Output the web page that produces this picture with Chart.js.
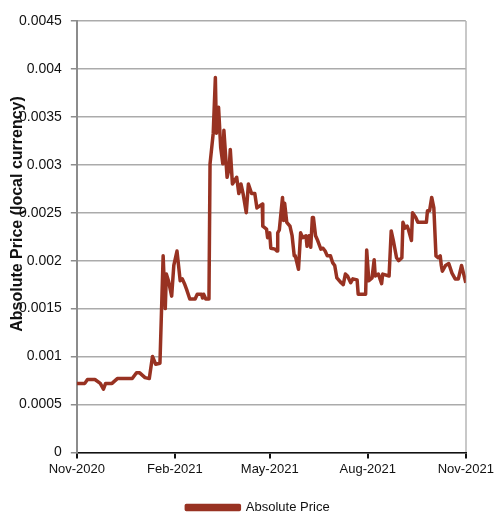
<!DOCTYPE html>
<html>
<head>
<meta charset="utf-8">
<script src="https://cdn.jsdelivr.net/npm/chart.js@4"></script>
<style>
  html, body { margin: 0; padding: 0; background: #fff; }
  #wrap { width: 497px; height: 513px; }
</style>
</head>
<body>
<div id="wrap"><canvas id="priceChart" width="497" height="513"></canvas></div>
<script>
// days since 1 Nov 2020
const days = [
    0, 7.5, 10, 17, 22, 25, 27, 33, 38, 52, 56, 59, 64, 68, 71, 74, 78,
    81, 83, 84, 86, 89, 91, 94, 97, 99, 101, 103, 106, 111, 113, 117, 118, 119, 121, 124,
    125, 128, 130, 131, 133, 135, 137, 138, 141, 143, 144, 146, 150, 152, 154, 156, 159,
    161, 164, 167, 169, 174, 174.5, 178, 179, 181, 182, 186, 188, 188.5, 190, 193, 194,
    195, 197, 200, 202, 204, 205, 208, 210, 212, 215, 216, 218, 219.5, 221, 222, 224,
    226, 229, 231, 233, 235, 238, 240, 242, 244, 248, 250, 252, 254, 257, 259, 263,
    264, 271, 272, 274, 277, 279, 280, 283, 286, 287, 293, 295, 297, 300, 302, 305,
    306, 308, 310, 311, 314, 315, 318, 320, 328, 329, 331, 333, 335, 337, 339, 341,
    342, 343, 346, 349, 352, 355, 358, 361, 363, 365
];
const prices = [
    0.00072, 0.00072, 0.00076, 0.00076, 0.00072, 0.00066, 0.00072, 0.00072, 0.00077, 0.00077,
    0.00083, 0.00083, 0.00078, 0.00077, 0.00100, 0.00092, 0.00093,
    0.00205, 0.00150, 0.00186, 0.00179, 0.00163, 0.00195, 0.00210, 0.00179, 0.00181, 0.00176,
    0.00170, 0.00160, 0.00160, 0.00165, 0.00165, 0.00161, 0.00165, 0.00160, 0.00160,
    0.00301, 0.00333, 0.00391, 0.00333, 0.00360, 0.00318, 0.00301, 0.00336, 0.00287, 0.00297,
    0.00316, 0.00280, 0.00287, 0.00270, 0.00280, 0.00270, 0.00250,
    0.00280, 0.00270, 0.00270, 0.00255, 0.00259, 0.00236, 0.00233, 0.00224, 0.00229, 0.00213,
    0.00212, 0.00210, 0.00229, 0.00232, 0.00266, 0.00242,
    0.00260, 0.00240, 0.00236, 0.00226, 0.00205, 0.00205, 0.00191, 0.00229, 0.00224, 0.00226,
    0.00215, 0.00226, 0.00214, 0.00245, 0.00245, 0.00226,
    0.00221, 0.00212, 0.00213, 0.00210, 0.00205, 0.00205, 0.00198, 0.00195, 0.00182, 0.00177,
    0.00175, 0.00186, 0.00184, 0.00177, 0.00181, 0.00180,
    0.00165, 0.00165, 0.00211, 0.00179, 0.00182, 0.00201, 0.00184, 0.00186, 0.00176, 0.00186,
    0.00184, 0.00231, 0.00221, 0.00203, 0.00200, 0.00203,
    0.00240, 0.00234, 0.00236, 0.00233, 0.00221, 0.00250, 0.00245, 0.00240, 0.00240, 0.00252,
    0.00252, 0.00266, 0.00255, 0.00205, 0.00203, 0.00205,
    0.00195, 0.00189, 0.00195, 0.00197, 0.00187, 0.00181, 0.00181, 0.00195, 0.00186, 0.00177
];

const xTickDays = [0, 92, 181, 273, 365];
const xTickLabels = ['Nov-2020', 'Feb-2021', 'May-2021', 'Aug-2021', 'Nov-2021'];
const yTickValues = [0, 0.0005, 0.001, 0.0015, 0.002, 0.0025, 0.003, 0.0035, 0.004, 0.0045];
const yTickLabels = ['0', '0.0005', '0.001', '0.0015', '0.002', '0.0025', '0.003', '0.0035', '0.004', '0.0045'];

const seriesName = 'Absolute Price';
const yTitle = 'Absolute Price (local currency)';
const lineColor = '#983222';
const font = 'Liberation Sans, Arial, sans-serif';

// y title overlaps the tick labels a bit in the original, so draw it by hand
const yTitlePlugin = {
    id: 'yTitle',
    afterLayout(chart) {
        // legend sits a bit right of centre and lower in the original
        const lg = chart.legend;
        lg.left += 20; lg.right += 20;
        lg.top += 11; lg.bottom += 11;
    },
    afterDraw(chart) {
        const c = chart.ctx;
        c.save();
        c.translate(18, 214);
        c.rotate(-Math.PI / 2);
        c.font = 'bold 16px ' + font;
        c.fillStyle = '#111';
        c.textAlign = 'center';
        c.textBaseline = 'middle';
        c.fillText(yTitle, 0, 0);
        c.restore();
    }
};

new Chart(document.getElementById('priceChart'), {
    type: 'line',
    data: {
        datasets: [{
            label: seriesName,
            data: days.map((d, i) => ({ x: d, y: prices[i] })),
            borderColor: lineColor,
            backgroundColor: lineColor,
            borderWidth: 3.5,
            pointRadius: 0,
            tension: 0,
            borderJoinStyle: 'round'
        }]
    },
    options: {
        responsive: false,
        animation: false,
        layout: { padding: { left: 10, right: 31, top: 21, bottom: 0 } },
        plugins: {
            legend: {
                position: 'bottom',
                labels: {
                    boxWidth: 53, boxHeight: 4, padding: 10,
                    color: '#111',
                    font: { family: font, size: 13 }
                }
            },
            tooltip: { enabled: false }
        },
        scales: {
            x: {
                type: 'linear',
                min: 0, max: 365,
                afterBuildTicks: axis => { axis.ticks = xTickDays.map(v => ({ value: v })); },
                ticks: {
                    autoSkip: false, maxRotation: 0, padding: 3,
                    color: '#111',
                    font: { family: font, size: 13 },
                    callback: (v, i) => xTickLabels[i]
                },
                grid: {
                    color: ctx => ctx.index === xTickDays.length - 1 ? '#c8c8c8' : 'rgba(0,0,0,0)',
                    lineWidth: 2,
                    tickColor: '#111',
                    tickLength: 6
                },
                border: { color: '#111', width: 1.5 }
            },
            y: {
                min: 0, max: 0.0045,
                afterBuildTicks: axis => { axis.ticks = yTickValues.map(v => ({ value: v })); },
                ticks: {
                    padding: 9,
                    color: '#111',
                    font: { family: font, size: 14 },
                    callback: (v, i) => yTickLabels[i]
                },
                grid: {
                    color: '#ababab',
                    lineWidth: 1.5,
                    tickColor: '#8c8c8c',
                    tickLength: 6
                },
                border: { color: '#8c8c8c', width: 2 }
            }
        }
    },
    plugins: [yTitlePlugin]
});
</script>
</body>
</html>
